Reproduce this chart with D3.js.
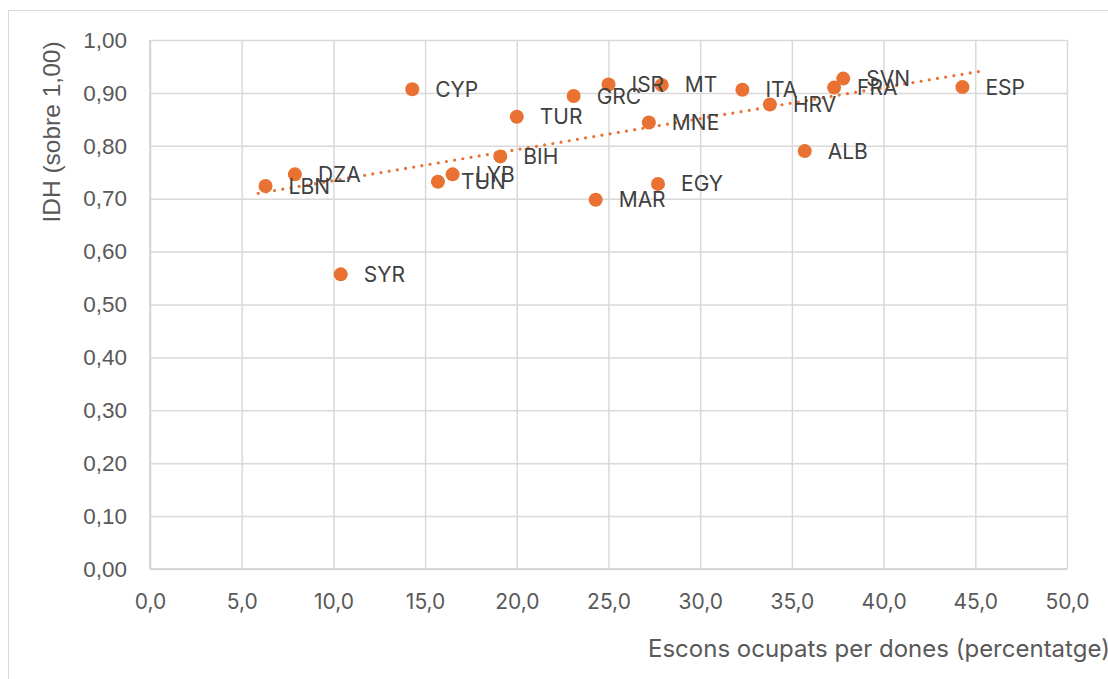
<!DOCTYPE html>
<html>
<head>
<meta charset="utf-8">
<script src="https://cdn.jsdelivr.net/npm/d3@7"></script>
<style>
  body { margin: 0; background: #fff; }
</style>
</head>
<body>
<div id="chart-area"></div>
<script>
// country codes and values
var codes = ["LBN","DZA","SYR","CYP","TUN","LYB","TUR","BIH","GRC","MAR","ISR","MT","MNE","EGY","ITA","HRV","ALB","FRA","SVN","ESP"];
var seats = [6.3, 7.9, 10.4, 14.3, 15.7, 16.5, 20.0, 19.1, 23.1, 24.3, 25.0, 27.9, 27.2, 27.7, 32.3, 33.8, 35.7, 37.3, 37.8, 44.3];
var idh   = [0.724, 0.746, 0.557, 0.907, 0.732, 0.746, 0.855, 0.780, 0.894, 0.698, 0.916, 0.915, 0.844, 0.728, 0.906, 0.878, 0.790, 0.910, 0.927, 0.911];
var xTicks = [0, 5, 10, 15, 20, 25, 30, 35, 40, 45, 50];
var yTicks = [0, 0.1, 0.2, 0.3, 0.4, 0.5, 0.6, 0.7, 0.8, 0.9, 1.0];
var trendExtent = [5.9, 45.5];

var width = 1108, height = 679;
var margin = {top: 40, right: 41, bottom: 110, left: 150};
var orange = "#E97132";
var sansFont = "Inter, 'Noto Sans', sans-serif";
var arialFont = "'Liberation Sans', Arial, sans-serif";

var svg = d3.select("#chart-area")
    .append("svg")
    .attr("width", width)
    .attr("height", height);

// outer chart border
svg.append("rect")
  .attr("x", 8.5).attr("y", 10.5)
  .attr("width", width + 20).attr("height", height + 20)
  .attr("fill", "none")
  .attr("stroke", "#d9d9d9");

var x = d3.scaleLinear()
    .domain([0, 50])
    .range([margin.left, width - margin.right]);

var y = d3.scaleLinear()
    .domain([0, 1])
    .range([height - margin.bottom, margin.top]);

var fmt = function(n, d) { return n.toFixed(d).replace(".", ","); };

//gridlines
var xAxis = d3.axisBottom(x)
  .tickValues(xTicks)
  .tickSize(-(y(0) - y(1)))
  .tickPadding(25)
  .tickFormat(function(d){ return fmt(d, 1); });

var gx = svg.append("g")
  .attr("transform", "translate(0," + y(0) + ")")
  .call(xAxis);
gx.select(".domain").remove();
gx.selectAll("line").attr("stroke", "#d9d9d9").attr("stroke-width", 1.5);
gx.selectAll("text")
  .attr("fill", "#595959")
  .attr("font-family", sansFont)
  .attr("font-size", "21px");

var yAxis = d3.axisLeft(y)
  .tickValues(yTicks)
  .tickSize(-(x(50) - x(0)))
  .tickPadding(23)
  .tickFormat(function(d){ return fmt(d, 2); });

var gy = svg.append("g")
  .attr("transform", "translate(" + x(0) + ",0)")
  .call(yAxis);
gy.select(".domain").remove();
gy.selectAll("line").attr("stroke", "#d9d9d9").attr("stroke-width", 1.5);
gy.selectAll("text")
  .attr("fill", "#595959")
  .attr("font-family", arialFont)
  .attr("font-size", "22.5px");

// axis lines
svg.append("line")
  .attr("x1", x(0)).attr("x2", x(50))
  .attr("y1", y(0)).attr("y2", y(0))
  .attr("stroke", "#cfcfcf").attr("stroke-width", 1.5);
svg.append("line")
  .attr("x1", x(0)).attr("x2", x(0))
  .attr("y1", y(0)).attr("y2", y(1))
  .attr("stroke", "#cfcfcf").attr("stroke-width", 1.5);

// axis titles
svg.append("text")
  .attr("x", 648)
  .attr("y", 657)
  .attr("fill", "#595959")
  .attr("font-family", sansFont)
  .attr("font-size", "24px")
  .text("Escons ocupats per dones (percentatge)");

svg.append("text")
  .attr("transform", "translate(60,132) rotate(-90)")
  .attr("text-anchor", "middle")
  .attr("fill", "#595959")
  .attr("font-family", arialFont)
  .attr("font-size", "24.5px")
  .text("IDH (sobre 1,00)");

var nodes = codes.map(function(c, i) {
  return {code: c, x: seats[i], y: idh[i]};
});

// linear trendline (least squares)
var mx = d3.mean(nodes, function(d){ return d.x; });
var my = d3.mean(nodes, function(d){ return d.y; });
var sxy = d3.sum(nodes, function(d){ return (d.x - mx) * (d.y - my); });
var sxx = d3.sum(nodes, function(d){ return (d.x - mx) * (d.x - mx); });
var slope = sxy / sxx, icpt = my - slope * mx;

svg.append("path")
  .datum(trendExtent)
  .attr("d", d3.line()
    .x(function(d){ return x(d); })
    .y(function(d){ return y(icpt + slope * d); }))
  .attr("stroke", orange)
  .attr("stroke-width", 3.2)
  .attr("stroke-linecap", "round")
  .attr("stroke-dasharray", "0,8.3")
  .attr("fill", "none");

svg.append("g").selectAll("circle")
  .data(nodes)
  .enter().append("circle")
  .attr("cx", function(d){ return x(d.x); })
  .attr("cy", function(d){ return y(d.y); })
  .attr("r", 7)
  .attr("fill", orange);

svg.append("g").selectAll("text")
  .data(nodes)
  .enter().append("text")
  .attr("x", function(d){ return x(d.x) + 23; })
  .attr("y", function(d){ return y(d.y) + 7.5; })
  .attr("fill", "#404040")
  .attr("font-family", sansFont)
  .attr("font-size", "21px")
  .text(function(d){ return d.code; });
</script>
</body>
</html>
